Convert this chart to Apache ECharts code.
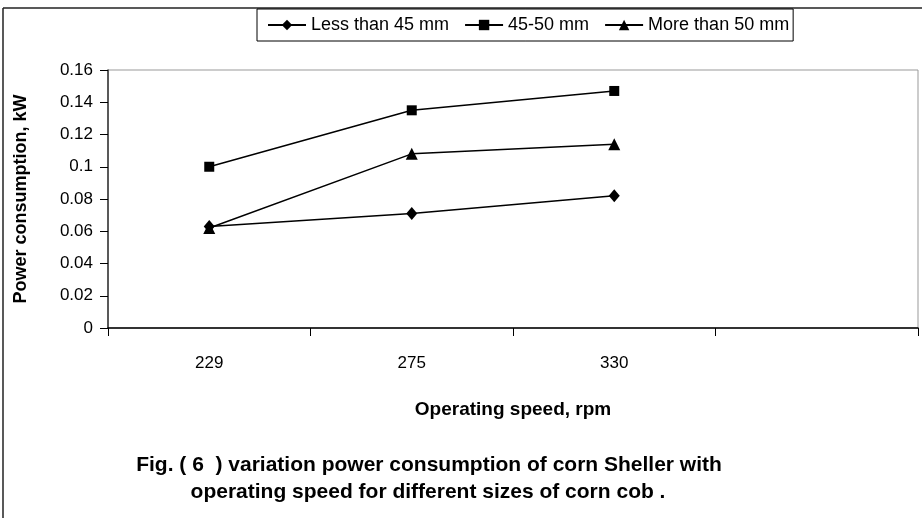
<!DOCTYPE html>
<html>
<head>
<meta charset="utf-8">
<script src="https://cdn.jsdelivr.net/npm/echarts@6/dist/echarts.min.js"></script>
<style>html,body{margin:0;padding:0;background:#fff;}#c{width:922px;height:518px;}</style>
</head>
<body>
<div id="c"></div>
<script>
var categories = ['229', '275', '330', ''];
var seriesNames = ['Less than 45 mm', '45-50 mm', 'More than 50 mm'];
var lessThan45 = [0.063, 0.071, 0.082];
var from45to50 = [0.100, 0.135, 0.147];
var moreThan50 = [0.062, 0.108, 0.114];
var yTicks = [0, 0.02, 0.04, 0.06, 0.08, 0.1, 0.12, 0.14, 0.16];

var FONT = 'Liberation Sans, Arial, sans-serif';
var chart = echarts.init(document.getElementById('c'), null, {renderer: 'canvas'});

function mkSeries(name, data, symbol, size) {
  return {
    name: name, type: 'line', data: data,
    symbol: symbol, symbolSize: size, showSymbol: true,
    lineStyle: {color: '#000', width: 1.5},
    itemStyle: {color: '#000'},
    emphasis: {disabled: true},
    animation: false
  };
}

var option = {
  backgroundColor: '#fff',
  animation: false,
  grid: {left: 108, right: 4, top: 70, bottom: 190, show: true, borderColor: '#999', borderWidth: 1, backgroundColor: 'transparent'},
  legend: {
    left: 257, top: 9,
    padding: [7, 4, 7, 10],
    itemGap: 15, itemWidth: 38, itemHeight: 13,
    borderColor: '#000', borderWidth: 1,
    textStyle: {fontSize: 18, color: '#000', fontFamily: FONT},
    data: seriesNames
  },
  xAxis: {
    type: 'category', data: categories, boundaryGap: true,
    name: 'Operating speed, rpm', nameLocation: 'middle', nameGap: 72,
    nameTextStyle: {fontSize: 19, fontWeight: 'bold', color: '#000', fontFamily: FONT},
    axisLine: {lineStyle: {color: '#000', width: 1.5}},
    axisTick: {show: true, interval: 0, length: 8, lineStyle: {color: '#000'}},
    axisLabel: {interval: 0, margin: 27, fontSize: 17, color: '#000', fontFamily: FONT},
    splitLine: {show: false}
  },
  yAxis: {
    type: 'value', min: 0, max: 0.16, interval: 0.02,
    name: 'Power consumption, kW', nameLocation: 'middle', nameGap: 78, nameRotate: 90,
    nameTextStyle: {fontSize: 18, fontWeight: 'bold', color: '#000', fontFamily: FONT},
    axisLine: {show: true, lineStyle: {color: '#333', width: 1.5}},
    axisTick: {show: true, length: 8, lineStyle: {color: '#000'}},
    axisLabel: {margin: 15, fontSize: 17, color: '#000', fontFamily: FONT,
      formatter: function (v) { var s = String(+v.toFixed(2)); return yTicks.indexOf(+s) >= 0 ? s : ''; }},
    splitLine: {show: false}
  },
  series: [
    mkSeries(seriesNames[0], lessThan45, 'diamond', [11, 13]),
    mkSeries(seriesNames[1], from45to50, 'rect', 10),
    mkSeries(seriesNames[2], moreThan50, 'triangle', 12)
  ],
  graphic: [
    {type: 'line', shape: {x1: 3, y1: 8, x2: 922, y2: 8}, style: {stroke: '#222', lineWidth: 1.5}, silent: true},
    {type: 'line', shape: {x1: 3, y1: 8, x2: 3, y2: 518}, style: {stroke: '#222', lineWidth: 1.5}, silent: true},
    {type: 'text', x: 429, y: 465, style: {text: 'Fig. ( 6  ) variation power consumption of corn Sheller with', fill: '#000',
      font: 'bold 21px ' + FONT, textAlign: 'center', textVerticalAlign: 'middle'}, silent: true},
    {type: 'text', x: 428, y: 492, style: {text: 'operating speed for different sizes of corn cob .', fill: '#000',
      font: 'bold 21px ' + FONT, textAlign: 'center', textVerticalAlign: 'middle'}, silent: true}
  ]
};
chart.setOption(option);
</script>
</body>
</html>
